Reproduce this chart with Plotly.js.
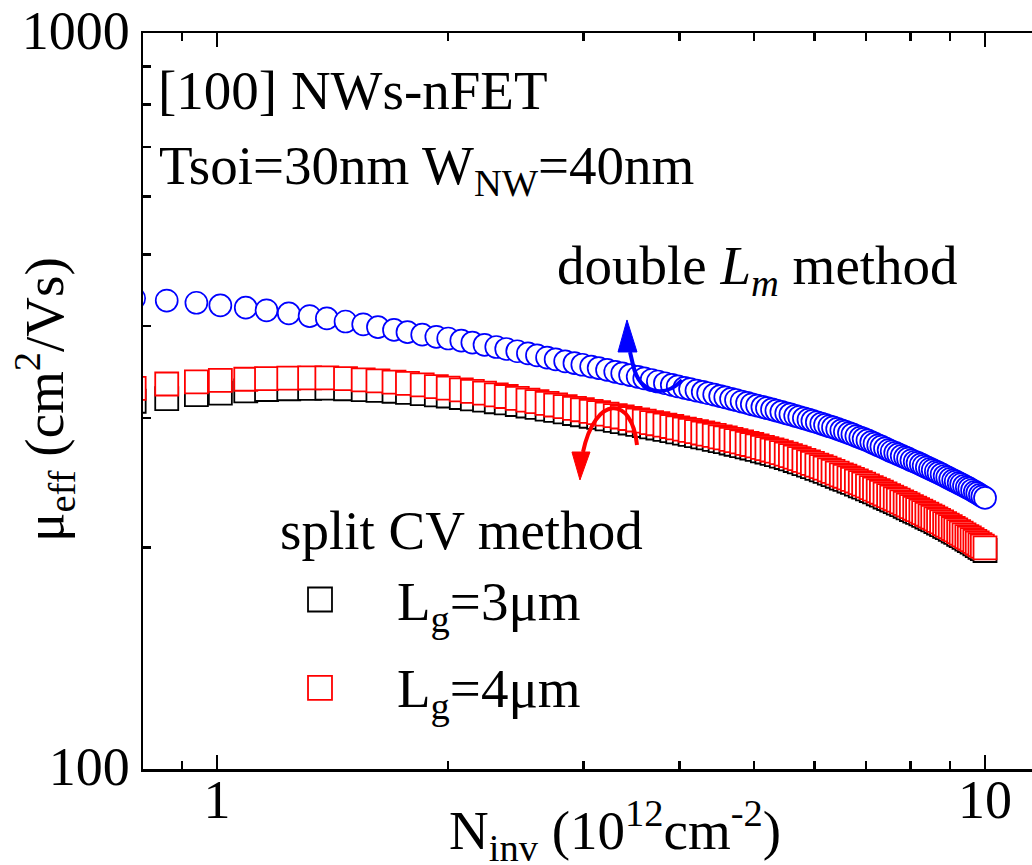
<!DOCTYPE html>
<html>
<head>
<meta charset="utf-8">
<script src="https://cdn.plot.ly/plotly-3.0.1.min.js"></script>
<style>
html,body{margin:0;padding:0;overflow:hidden;background:#fff;}
#chart{width:1100px;height:865px;}
</style>
</head>
<body>
<div id="chart"></div>
<script>
// Inversion charge density N_inv (10^12 cm^-2)
const N_inv = [0.78,0.86,0.94,1.01,1.09,1.16,1.24,1.32,1.39,1.47,
1.55,1.62,1.70,1.77,1.85,1.93,2.00,2.08,2.15,2.23,
2.31,2.38,2.46,2.54,2.61,2.69,2.76,2.84,2.92,2.99,
3.07,3.14,3.22,3.30,3.37,3.45,3.53,3.60,3.68,3.75,
3.83,3.91,3.98,4.06,4.13,4.21,4.29,4.36,4.44,4.52,
4.59,4.67,4.74,4.82,4.90,4.97,5.05,5.13,5.20,5.28,
5.35,5.43,5.51,5.58,5.66,5.73,5.81,5.89,5.96,6.04,
6.12,6.19,6.27,6.34,6.42,6.50,6.57,6.65,6.72,6.80,
6.88,6.95,7.03,7.11,7.18,7.26,7.33,7.41,7.49,7.56,
7.64,7.71,7.79,7.87,7.94,8.02,8.10,8.17,8.25,8.32,
8.40,8.48,8.55,8.63,8.70,8.78,8.86,8.93,9.01,9.09,
9.16,9.24,9.31,9.39,9.47,9.54,9.62,9.70,9.77,9.85,
9.92,10.00];

// double Lm method (blue circles)
const mu_doubleLm = [436,433,430,426.5,423.5,420,416,412.5,409.5,405.5,
402,398.5,395,392.2,389.2,386.6,384.5,381.9,379.6,377,
374.4,372.1,369.5,367,364.7,362.3,360.2,358,356,354.2,
352.2,350.5,348.5,346.5,344.7,342.9,341.1,339.5,337.7,336.1,
334.3,332.5,331,329.4,328.2,326.7,325.3,324,322.6,321.1,
319.9,318.4,317.2,315.7,314.3,313,311.7,310.4,309.3,308,
306.9,305.6,304.3,303.2,301.9,300.8,299.5,298.3,297.1,295.9,
294.6,293.5,292.2,291.1,289.8,288.5,287.3,286,284.8,283.4,
282,280.9,279.5,278,276.8,275.3,274.1,272.6,271.2,270,
268.8,267.6,266.4,265.1,264,262.7,261.5,260.5,259.3,258.2,
257,255.8,254.8,253.6,252.5,251.3,250.1,249,247.9,246.7,
245.8,244.6,243.7,242.5,241.4,240.4,239.2,238,237,235.8,
234.7,233.5];

// split CV method, Lg = 3 um (black squares)
const mu_Lg3 = [316,318.5,322.5,324.2,326.5,327.8,328.6,329,329.2,328.6,
327.7,326.9,326.0,324.9,323.7,322.3,321.2,319.7,318.4,317.0,
315.5,314.3,312.8,311.3,309.9,308.3,307.0,305.6,304.1,302.9,
301.5,300.4,299.0,297.7,296.5,295.2,293.9,292.9,291.6,290.6,
289.4,288.3,287.2,286.0,284.9,283.8,282.7,281.7,280.5,279.4,
278.4,277.3,276.2,275.1,273.9,273.0,271.8,270.6,269.6,268.4,
267.4,266.2,265.0,263.8,262.5,261.4,260.0,258.7,257.5,256.2,
254.9,253.7,252.4,251.2,249.9,248.5,247.5,246.2,245.1,243.8,
242.5,241.5,240.2,239.0,237.9,236.6,235.5,234.2,233.1,232.0,
230.8,229.8,228.6,227.5,226.4,225.2,224.1,223.2,222.1,221.1,
220.0,218.9,218.0,216.9,215.9,214.8,213.7,212.8,211.7,210.5,
209.6,208.4,207.5,206.4,205.3,204.4,203.3,202.2,201.2,200.1,
199.2,198.1];

// split CV method, Lg = 4 um (red squares)
const mu_Lg4 = [329,333.5,335.8,337.3,338.5,339.2,339.7,340,340,339.1,
337.9,336.8,335.5,334.1,332.5,330.8,329.3,327.5,325.9,324.1,
322.3,320.7,318.9,317.1,315.6,313.8,312.3,310.7,309.1,307.7,
306.2,305,303.5,302.1,300.8,299.4,298,296.9,295.6,294.5,
293.2,292,290.8,289.6,288.5,287.3,286.1,285.1,283.9,282.7,
281.7,280.5,279.4,278.2,277,276,274.8,273.6,272.5,271.3,
270.3,269.1,267.8,266.6,265.3,264.1,262.7,261.4,260.2,258.8,
257.5,256.3,254.9,253.7,252.4,251,249.9,248.6,247.5,246.2,
244.9,243.8,242.5,241.2,240.1,238.8,237.7,236.4,235.2,234.1,
232.9,231.9,230.7,229.5,228.4,227.2,226.1,225.1,224,223,
221.9,220.8,219.8,218.7,217.7,216.6,215.5,214.5,213.4,212.2,
211.3,210.1,209.2,208,206.9,206,204.9,203.8,202.8,201.7,
200.8,199.7];

const xTickVals = [1, 10];
const xTickText = ['1', '10'];
const xMinorVals = [0.9, 2, 3, 4, 5, 6, 7, 8, 9, 20];
const yTickVals = [100, 1000];
const yTickText = ['100', '1000'];
const yMinorVals = [200, 300, 400, 500, 600, 700, 800, 900];

const FONT = 'Liberation Serif, Times New Roman, serif';
const FS = 55;
const TFS = 54;

const traces = [
  {x: N_inv, y: mu_Lg3, type: 'scatter', mode: 'markers', name: 'L<sub>g</sub>=3μm', showlegend: false,
   marker: {symbol: 'square', size: 23, color: '#ffffff', line: {color: '#000000', width: 1.8}}},
  {x: N_inv, y: mu_Lg4, type: 'scatter', mode: 'markers', name: 'L<sub>g</sub>=4μm', showlegend: false,
   marker: {symbol: 'square', size: 23, color: '#ffffff', line: {color: '#ff0000', width: 1.8}}},
  {x: N_inv, y: mu_doubleLm, type: 'scatter', mode: 'markers', name: 'double L<sub>m</sub> method', showlegend: false,
   marker: {symbol: 'circle', size: 22, color: '#ffffff', line: {color: '#0000ff', width: 1.7}}}
];

const txt = (text, x, y, xanchor, extra) => Object.assign({
  text: text, x: x, y: y, xref: 'paper', yref: 'paper', xanchor: xanchor, yanchor: 'middle',
  showarrow: false, font: {family: FONT, size: FS, color: '#000'}
}, extra || {});

const layout = {
  width: 1100, height: 865,
  margin: {l: 143, r: 13, t: 33, b: 96},
  paper_bgcolor: '#ffffff', plot_bgcolor: '#ffffff',
  font: {family: FONT, size: FS, color: '#000'},
  showlegend: false,
  xaxis: {
    type: 'log', range: [-0.0964, 1.1328],
    tickmode: 'array', tickvals: xTickVals, ticktext: xTickText,
    ticks: 'inside', ticklen: 14, tickwidth: 2.5, tickcolor: '#000',
    showline: true, linecolor: '#000', linewidth: 2.5, mirror: 'ticks',
    showgrid: false, zeroline: false,
    ticklabelstandoff: -18,
    tickfont: {family: FONT, size: TFS, color: '#000'},
    minor: {tickmode: 'array', tickvals: xMinorVals, ticks: 'inside', ticklen: 8, tickwidth: 2.5, tickcolor: '#000', showgrid: false}
  },
  yaxis: {
    type: 'log', range: [2, 3],
    tickmode: 'array', tickvals: yTickVals, ticktext: yTickText,
    ticks: 'inside', ticklen: 14, tickwidth: 2.5, tickcolor: '#000',
    showline: true, linecolor: '#000', linewidth: 2.5, mirror: 'ticks',
    showgrid: false, zeroline: false,
    ticklabelstandoff: 0,
    ticklabelshift: -3,
    tickfont: {family: FONT, size: TFS, color: '#000'},
    minor: {tickmode: 'array', tickvals: yMinorVals, ticks: 'inside', ticklen: 8, tickwidth: 2.5, tickcolor: '#000', showgrid: false}
  },
  annotations: [
    txt('[100] NWs-nFET', 0.0138, 0.9212, 'left'),
    txt('Tsoi=30nm W<sub>NW</sub>=40nm', 0.0148, 0.8152, 'left'),
    txt('double <i>L</i><sub><i>m</i></sub> method', 0.4364, 0.6793, 'left'),
    txt('split CV method', 0.1430, 0.3234, 'left'),
    txt('L<sub>g</sub>=3μm', 0.2669, 0.2228, 'left'),
    txt('L<sub>g</sub>=4μm', 0.2669, 0.1046, 'left'),
    txt('N<sub>inv</sub> (10<sup>12</sup>cm<sup>-2</sup>)', 0.5, -0.0829, 'center'),
    txt('μ<sub>eff</sub> (cm<sup>2</sup>/Vs)', -0.1038, 0.5014, 'center', {textangle: -90})
  ],
  shapes: [
    // legend symbols
    {type: 'rect', xref: 'paper', yref: 'paper', x0: 0.1748, x1: 0.2002, y0: 0.2140, y1: 0.2466,
     line: {color: '#000', width: 1.8}, fillcolor: 'rgba(0,0,0,0)'},
    {type: 'rect', xref: 'paper', yref: 'paper', x0: 0.1748, x1: 0.2002, y0: 0.0938, y1: 0.1264,
     line: {color: '#ff0000', width: 1.8}, fillcolor: 'rgba(0,0,0,0)'},
    // blue curved arrow
    {type: 'path', xref: 'paper', yref: 'paper',
     path: 'M 0.5710 0.5285 C 0.5530 0.5041 0.5265 0.5082 0.5191 0.5489 L 0.5159 0.5666',
     line: {color: '#0000ff', width: 4}},
    {type: 'path', xref: 'paper', yref: 'paper',
     path: 'M 0.5032 0.5666 L 0.5233 0.5666 L 0.5127 0.6101 Z',
     line: {color: '#0000ff', width: 1}, fillcolor: '#0000ff'},
    // red curved arrow
    {type: 'path', xref: 'paper', yref: 'paper',
     path: 'M 0.5233 0.4402 C 0.5180 0.5082 0.4788 0.5082 0.4661 0.4307',
     line: {color: '#ff0000', width: 4}},
    {type: 'path', xref: 'paper', yref: 'paper',
     path: 'M 0.4544 0.4307 L 0.4735 0.4307 L 0.4629 0.3927 Z',
     line: {color: '#ff0000', width: 1}, fillcolor: '#ff0000'}
  ]
};

Plotly.newPlot('chart', traces, layout, {displayModeBar: false, staticPlot: true});
</script>
</body>
</html>
